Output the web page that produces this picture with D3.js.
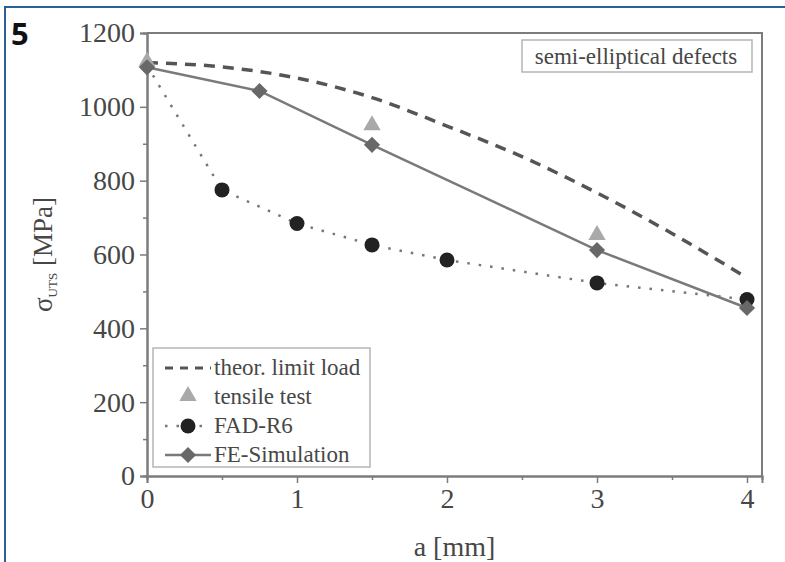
<!DOCTYPE html>
<html>
<head>
<meta charset="utf-8">
<script src="https://cdn.jsdelivr.net/npm/d3@7"></script>
<style>
  body { margin: 0; background: #fff; }
  svg { display: block; }
  text { font-family: "Liberation Serif", "Times New Roman", serif; }
</style>
</head>
<body>
<div id="chart-area"></div>
<script>
// crack depth a [mm]
var limitA = [0, 0.5, 1, 1.5, 2, 2.5, 3, 3.5, 4];
var limitLoad = [1120, 1108, 1078, 1025, 948, 865, 767, 657, 537];

var tensileA = [0, 1.5, 3];
var tensileTest = [1122, 950, 653];

var fadA = [0.5, 1, 1.5, 2, 3, 4];
var fadR6 = [775, 684, 626, 585, 523, 478];
var fadStart = 1112; // curve starts at a = 0

var feA = [0, 0.75, 1.5, 3, 4];
var feSim = [1107, 1043, 897, 612, 455];

var xTicks = [0, 1, 2, 3, 4];
var yTicks = [0, 200, 400, 600, 800, 1000, 1200];
var legendLabels = ["theor. limit load", "tensile test", "FAD-R6", "FE-Simulation"];

const svgWidth = 785, svgHeight = 562;
const margin = {top: 33, right: 23, bottom: 86, left: 147};

var canvas = d3.select("#chart-area").append("svg")
  .attr("width", svgWidth)
  .attr("height", svgHeight);

// blue page frame
canvas.append("path")
  .attr("d", "M5,562 L5,7 L785,7")
  .attr("fill", "none")
  .attr("stroke", "#2b5f98")
  .attr("stroke-width", 2);

canvas.append("text")
  .attr("x", 11).attr("y", 45)
  .style("font-family", "'Open Sans', 'DejaVu Sans', sans-serif")
  .attr("font-weight", "bold")
  .attr("font-size", 31)
  .attr("fill", "#111")
  .text("5");

var xScale = d3.scaleLinear()
  .domain([0, 4.1])
  .range([margin.left, svgWidth - margin.right]);

var yScale = d3.scaleLinear()
  .domain([0, 1200])
  .range([svgHeight - margin.bottom, margin.top]);

var axisColor = "#7c7c7c";
var textColor = "#474747";

// frame top and right
canvas.append("path")
  .attr("d", "M" + xScale(0) + "," + yScale(1200) + " L" + xScale(4.1) + "," + yScale(1200) + " L" + xScale(4.1) + "," + yScale(0))
  .attr("fill", "none")
  .attr("stroke", axisColor)
  .attr("stroke-width", 2);

var xAxis = d3.axisBottom(xScale).tickValues(xTicks).tickSize(7).tickPadding(5).tickFormat(d3.format("d"));
var xMinor = d3.axisBottom(xScale).tickValues([0.5, 1.5, 2.5, 3.5]).tickSize(4).tickFormat("");
var yAxis = d3.axisLeft(yScale).tickValues(yTicks).tickSize(7).tickPadding(5).tickFormat(d3.format("d"));
var yMinor = d3.axisLeft(yScale).tickValues([100, 300, 500, 700, 900, 1100]).tickSize(4).tickFormat("");

function styleAxis(g) {
  g.select(".domain").attr("stroke", axisColor).attr("stroke-width", 2);
  g.selectAll(".tick line").attr("stroke", axisColor).attr("stroke-width", 1.5);
  g.selectAll(".tick text")
    .attr("fill", textColor)
    .attr("font-size", 28)
    .style("font-family", "'Liberation Serif', serif");
}

var xAxisGroup = canvas.append("g")
  .attr("transform", "translate(0," + yScale(0) + ")")
  .call(xAxis).call(styleAxis);
canvas.append("g")
  .attr("transform", "translate(0," + yScale(0) + ")")
  .call(xMinor).call(styleAxis);

var yAxisGroup = canvas.append("g")
  .attr("transform", "translate(" + xScale(0) + ",0)")
  .call(yAxis).call(styleAxis);
canvas.append("g")
  .attr("transform", "translate(" + xScale(0) + ",0)")
  .call(yMinor).call(styleAxis);

// axis labels
canvas.append("text")
  .attr("x", (xScale(0) + xScale(4.1)) / 2)
  .attr("y", 556)
  .attr("text-anchor", "middle")
  .attr("font-size", 28)
  .attr("fill", textColor)
  .text("a [mm]");

var yLabel = canvas.append("text")
  .attr("transform", "translate(52," + ((yScale(0) + yScale(1200)) / 2) + ") rotate(-90)")
  .attr("text-anchor", "middle")
  .attr("font-size", 27)
  .attr("fill", textColor);
yLabel.append("tspan").text("σ");
yLabel.append("tspan").attr("font-size", 13).attr("dy", 5).text("UTS");
yLabel.append("tspan").attr("dy", -5).text(" [MPa]");

// semi-elliptical box
canvas.append("rect")
  .attr("x", 522).attr("y", 40)
  .attr("width", 230).attr("height", 32)
  .attr("fill", "#fff")
  .attr("stroke", "#b5b5b5")
  .attr("stroke-width", 1.5);
canvas.append("text")
  .attr("x", 636).attr("y", 64)
  .attr("text-anchor", "middle")
  .attr("font-size", 23)
  .attr("fill", textColor)
  .text("semi-elliptical defects");

var smooth = d3.line()
  .x(d => xScale(d[0]))
  .y(d => yScale(d[1]))
  .curve(d3.curveMonotoneX);

var straight = d3.line()
  .x(d => xScale(d[0]))
  .y(d => yScale(d[1]));

// theoretical limit load (dashed)
canvas.append("path")
  .datum(limitA.map((a, i) => [a, limitLoad[i]]))
  .attr("d", smooth)
  .attr("fill", "none")
  .attr("stroke", "#555")
  .attr("stroke-width", 3.5)
  .attr("stroke-dasharray", "11,8");

// FAD-R6 (dotted)
var fadCurve = [[0, fadStart]].concat(fadA.map((a, i) => [a, fadR6[i]]));
canvas.append("path")
  .datum(fadCurve)
  .attr("d", straight)
  .attr("fill", "none")
  .attr("stroke", "#777")
  .attr("stroke-width", 2.5)
  .attr("stroke-dasharray", "2.5,9");

// FE-Simulation (solid)
canvas.append("path")
  .datum(feA.map((a, i) => [a, feSim[i]]))
  .attr("d", straight)
  .attr("fill", "none")
  .attr("stroke", "#7a7a7a")
  .attr("stroke-width", 2.5);

var triangle = d3.symbol().type(d3.symbolTriangle).size(130);
var diamond = d3.symbol().type(d3.symbolSquare).size(130);

// tensile test
canvas.selectAll(".tri")
  .data(tensileA.map((a, i) => [a, tensileTest[i]]))
  .enter().append("path")
  .attr("class", "tri")
  .attr("d", triangle)
  .attr("transform", d => "translate(" + xScale(d[0]) + "," + yScale(d[1]) + ")")
  .attr("fill", "#a9a9a9");

canvas.selectAll(".fad")
  .data(fadA.map((a, i) => [a, fadR6[i]]))
  .enter().append("circle")
  .attr("class", "fad")
  .attr("cx", d => xScale(d[0]))
  .attr("cy", d => yScale(d[1]))
  .attr("r", 7.5)
  .attr("fill", "#222");

canvas.selectAll(".fe")
  .data(feA.map((a, i) => [a, feSim[i]]))
  .enter().append("path")
  .attr("class", "fe")
  .attr("d", diamond)
  .attr("transform", d => "translate(" + xScale(d[0]) + "," + yScale(d[1]) + ") rotate(45)")
  .attr("fill", "#686868");

// legend
var legend = canvas.append("g").attr("transform", "translate(153,348)");
legend.append("rect")
  .attr("width", 217).attr("height", 119)
  .attr("fill", "#fff")
  .attr("stroke", "#b5b5b5")
  .attr("stroke-width", 1.5);

legendLabels.forEach((label, i) => {
  var row = legend.append("g").attr("transform", "translate(0," + (20 + i * 29) + ")");
  if (i === 0) {
    row.append("line").attr("x1", 12).attr("x2", 58).attr("y1", 0).attr("y2", 0)
      .attr("stroke", "#555").attr("stroke-width", 3).attr("stroke-dasharray", "8,7");
  } else if (i === 1) {
    row.append("path").attr("d", triangle).attr("transform", "translate(35,-1)").attr("fill", "#a9a9a9");
  } else if (i === 2) {
    row.append("line").attr("x1", 12).attr("x2", 58).attr("y1", 0).attr("y2", 0)
      .attr("stroke", "#777").attr("stroke-width", 2.5).attr("stroke-dasharray", "2.5,9");
    row.append("circle").attr("cx", 35).attr("cy", 0).attr("r", 7.5).attr("fill", "#222");
  } else {
    row.append("line").attr("x1", 12).attr("x2", 58).attr("y1", 0).attr("y2", 0)
      .attr("stroke", "#7a7a7a").attr("stroke-width", 2.5);
    row.append("path").attr("d", diamond).attr("transform", "translate(35,0) rotate(45)").attr("fill", "#686868");
  }
  row.append("text")
    .attr("x", 61).attr("y", 7)
    .attr("font-size", 23)
    .attr("fill", textColor)
    .text(label);
});
</script>
</body>
</html>
